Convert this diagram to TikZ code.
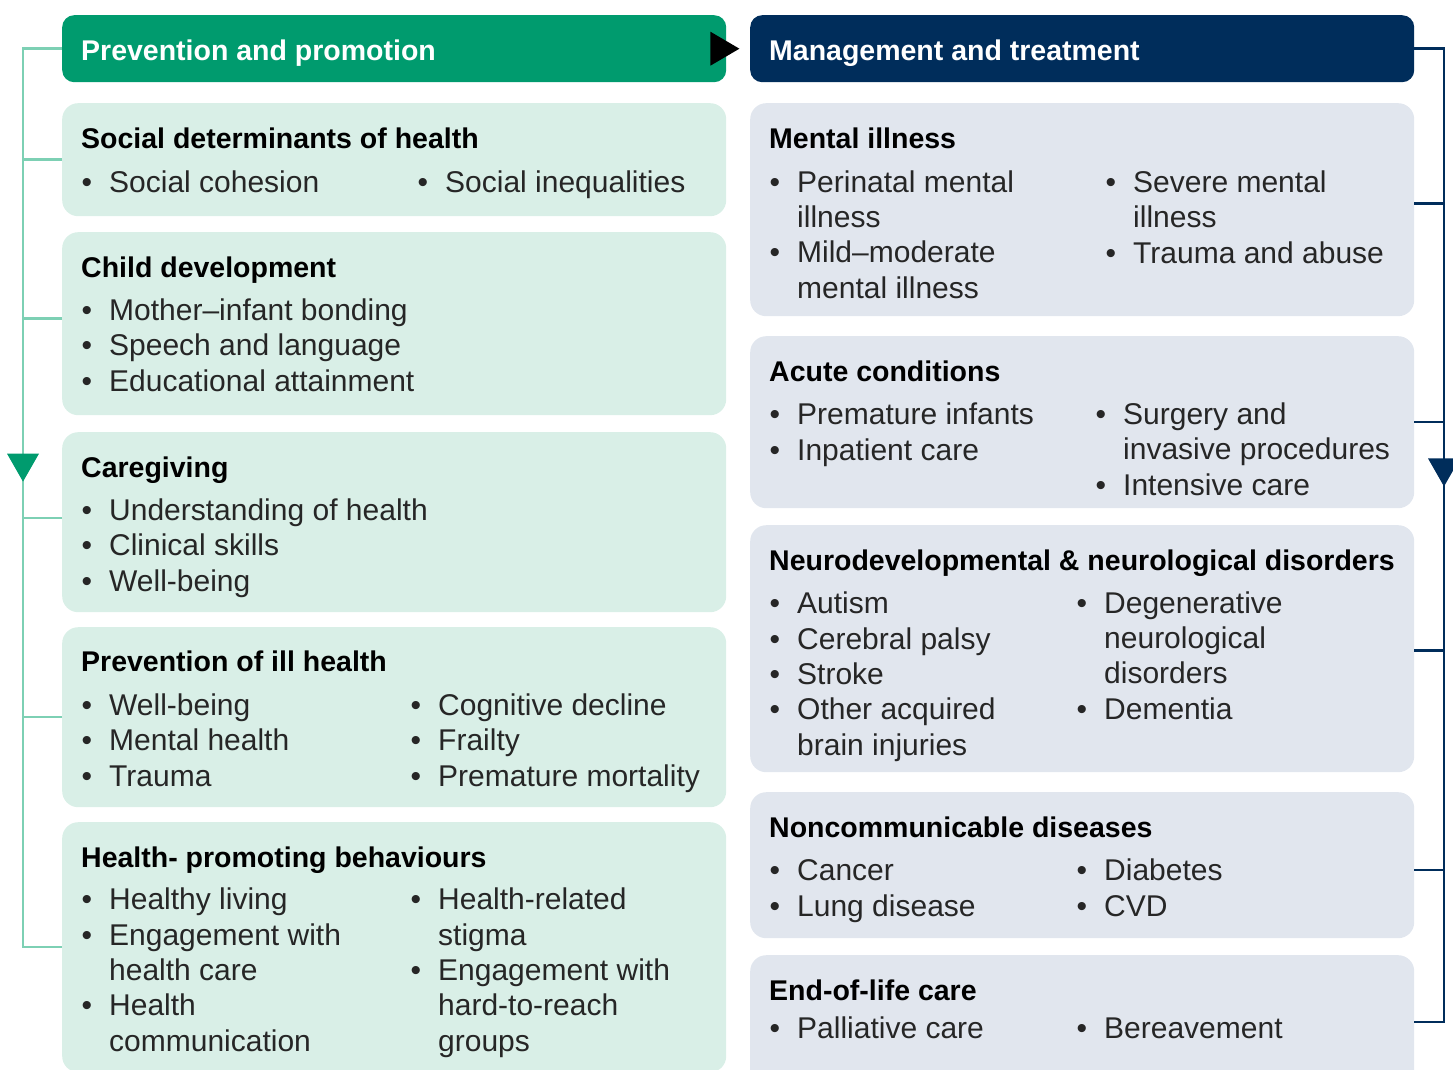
\documentclass[tikz,border=0pt]{standalone}
\usepackage{fontspec}
\setmainfont{Liberation Sans}
\usetikzlibrary{positioning}
\usetikzlibrary{decorations.markings}

\definecolor{promo}{RGB}{0,155,110}
\definecolor{promoline}{RGB}{125,208,180}
\definecolor{promofill}{RGB}{217,239,231}
\definecolor{manage}{RGB}{0,45,91}
\definecolor{managefill}{RGB}{225,230,238}

\newcommand{\itemdot}{\llap{\textbullet\hspace{17pt}}}

\tikzset{
  % triangle marker placed along a rail
  mid arrow/.style 2 args={
    postaction={
      decorate,
      decoration={
        markings,
        mark=at position #1 with {
          \fill[#2] (14pt,0)--(-14pt,16pt)--(-14pt,-16pt)--cycle;
        }
      }
    }
  },
  lline/.style={draw=promoline, line width=2.5pt},
  rline/.style={draw=manage, line width=2.5pt}
}
\tikzset{
  head/.style={
    anchor=north west,
    rectangle,
    rounded corners=12pt,
    minimum width=664pt,
    minimum height=67pt,
    inner sep=0
  },
  box/.style={
    anchor=north west,
    rectangle,
    rounded corners=16pt,
    minimum width=664pt,
    inner sep=0
  },
  lbox/.style={box, fill=promofill},
  rbox/.style={box, fill=managefill},
  headtext/.style={
    anchor=base west,
    inner sep=0,
    text=white,
    font=\bfseries\fontsize{28.5}{34}\selectfont
  },
  title/.style={
    anchor=base west,
    inner sep=0,
    font=\bfseries\fontsize{28.5}{34}\selectfont
  },
  % lists sit on the baseline of their last line
  items/.style={
    anchor=base west,
    inner sep=0,
    align=left,
    text=black!85,
    font=\fontsize{30}{35.3}\selectfont
  }
}

\begin{document}
\begin{tikzpicture}[x=1pt, y=-1pt]
    \useasboundingbox (0,0) rectangle (1453,1070);

    % headers
    \node[head, fill=promo] (phead) at (62,15) {};
    \node[head, fill=manage] (mhead) at (750,15) {};
    \node[headtext] (phead-t) at (81,61) {Prevention and promotion};
    \node[headtext] (mhead-t) at (769,61) {Management and treatment};
    \fill ([shift={(-16,-17)}]phead.east)
    -- ([shift={(13,0)}]phead.east)
    -- ([shift={(-16,17)}]phead.east) -- cycle;

    % left column
    \node[lbox, minimum height=113pt] (sdh) at (62,103) {};
    \node[lbox, minimum height=183pt] (chd) at (62,232) {};
    \node[lbox, minimum height=180pt] (cgv) at (62,432) {};
    \node[lbox, minimum height=180pt] (pih) at (62,627) {};
    \node[lbox, minimum height=250pt] (hpb) at (62,822) {};

    \node[title] (sdh-t) at (81,149) {Social determinants of health};
    \node[items] (sdh-a) at (109,192) {\itemdot Social cohesion};
    \node[items] (sdh-b) at (445,192) {\itemdot Social inequalities};

    \node[title] (chd-t) at (81,277) {Child development};
    \node[items] (chd-a) at (109,391) {\itemdot Mother–infant bonding\\
      \itemdot Speech and language\\\itemdot Educational attainment};

    \node[title] (cgv-t) at (81,477) {Caregiving};
    \node[items] (cgv-a) at (109,591) {\itemdot Understanding of health\\
      \itemdot Clinical skills\\\itemdot Well-being};

    \node[title] (pih-t) at (81,671) {Prevention of ill health};
    \node[items] (pih-a) at (109,786) {\itemdot Well-being\\
      \itemdot Mental health\\\itemdot Trauma};
    \node[items] (pih-b) at (438,786) {\itemdot Cognitive decline\\
      \itemdot Frailty\\\itemdot Premature mortality};

    \node[title] (hpb-t) at (81,867) {Health- promoting behaviours};
    \node[items] (hpb-a) at (109,1051) {\itemdot Healthy living\\
      \itemdot Engagement with\\health care\\\itemdot Health\\communication};
    \node[items] (hpb-b) at (438,1051) {\itemdot Health-related\\stigma\\
      \itemdot Engagement with\\hard-to-reach\\groups};

    % right column
    \node[rbox, minimum height=213pt] (mil) at (750,103) {};
    \node[rbox, minimum height=172pt] (acu) at (750,336) {};
    \node[rbox, minimum height=247pt] (neu) at (750,525) {};
    \node[rbox, minimum height=146pt] (ncd) at (750,792) {};
    \node[rbox, minimum height=134pt] (eol) at (750,955) {};

    \node[title] (mil-t) at (769,149) {Mental illness};
    \node[items] (mil-a) at (797,298) {\itemdot Perinatal mental\\illness\\
      \itemdot Mild–moderate\\mental illness};
    \node[items] (mil-b) at (1133,263) {\itemdot Severe mental\\illness\\
      \itemdot Trauma and abuse};

    \node[title] (acu-t) at (769,381) {Acute conditions};
    \node[items] (acu-a) at (797,460) {\itemdot Premature infants\\
      \itemdot Inpatient care};
    \node[items] (acu-b) at (1123,495) {\itemdot Surgery and\\
      invasive procedures\\\itemdot Intensive care};

    \node[title] (neu-t) at (769,570) {Neurodevelopmental \& neurological disorders};
    \node[items] (neu-a) at (797,755) {\itemdot Autism\\\itemdot Cerebral palsy\\
      \itemdot Stroke\\\itemdot Other acquired\\brain injuries};
    \node[items] (neu-b) at (1104,719) {\itemdot Degenerative\\neurological\\
      disorders\\\itemdot Dementia};

    \node[title] (ncd-t) at (769,837) {Noncommunicable diseases};
    \node[items] (ncd-a) at (797,916) {\itemdot Cancer\\\itemdot Lung disease};
    \node[items] (ncd-b) at (1104,916) {\itemdot Diabetes\\\itemdot CVD};

    \node[title] (eol-t) at (769,1000) {End-of-life care};
    \node[items] (eol-a) at (797,1038) {\itemdot Palliative care};
    \node[items] (eol-b) at (1104,1038) {\itemdot Bereavement};

    % rails
    \coordinate (lrail) at (23,0);
    \coordinate (rrail) at (1444,0);

    \draw[lline, mid arrow={0.469}{promo}] (phead.west)
    -- (phead.west -| lrail)
    -- (hpb.west -| lrail)
    -- (hpb.west);
    \draw[lline] (sdh.west) -- (sdh.west -| lrail);
    \draw[lline] ([yshift=5pt]chd.west) -- ([yshift=5pt]chd.west -| lrail);
    \draw[lline] ([yshift=4pt]cgv.west) -- ([yshift=4pt]cgv.west -| lrail);
    \draw[lline] (pih.west) -- (pih.west -| lrail);

    \draw[rline, mid arrow={0.439}{manage}] (mhead.east)
    -- (mhead.east -| rrail)
    -- (eol.east -| rrail)
    -- (eol.east);
    \draw[rline] ([yshift=6pt]mil.east) -- ([yshift=6pt]mil.east -| rrail);
    \draw[rline] (acu.east) -- (acu.east -| rrail);
    \draw[rline] ([yshift=-2pt]neu.east) -- ([yshift=-2pt]neu.east -| rrail);
    \draw[rline] ([yshift=-5pt]ncd.east) -- ([yshift=-5pt]ncd.east -| rrail);
\end{tikzpicture}
\end{document}
